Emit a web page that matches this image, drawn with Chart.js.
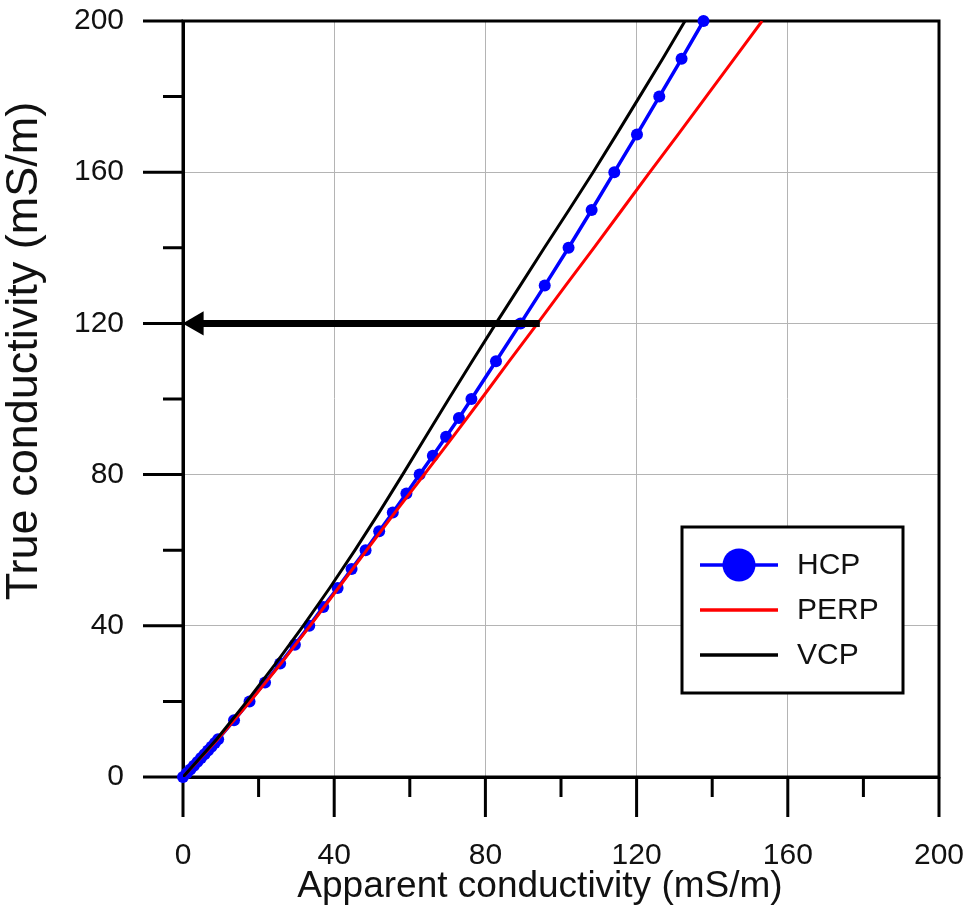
<!DOCTYPE html>
<html>
<head>
<meta charset="utf-8">
<title>True vs apparent conductivity</title>
<script src="https://cdn.jsdelivr.net/npm/chart.js@4.4.0/dist/chart.umd.min.js"></script>
<style>
    html, body { margin: 0; padding: 0; background: #fff; }
    #wrap { width: 971px; height: 914px; }
</style>
</head>
<body>
<div id="wrap"><canvas id="cond_chart" width="971" height="914"></canvas></div>
<script>
// true conductivity (mS/m) vs apparent conductivity (mS/m) per coil setup
const hcp_true = [0,1,2,3,4,5,6,7,8,9,10,15,20,25,30,35,40,45,50,55,60,65,70,75,80,85,90,95,100,110,120,130,140,150,160,170,180,190,200];
const hcp_apparent = [0,0.97,1.93,2.88,3.83,4.77,5.7,6.62,7.53,8.43,9.3,13.5,17.6,21.7,25.7,29.6,33.4,37.1,40.9,44.6,48.3,51.9,55.5,59.1,62.6,66.1,69.6,73.0,76.3,82.8,89.3,95.7,102.0,108.1,114.1,120.1,126.0,131.9,137.7];

const perp_true = [0,10,20,30,40,50,60,70,80,90,100,110,120,130,140,150,160,170,180,190,200];
const perp_apparent = [0,9.2,17.8,25.9,33.6,41.1,48.6,56.1,63.8,71.4,78.9,86.3,93.8,101.2,108.7,116.1,123.5,131.0,138.4,145.8,153.2];

const vcp_true = [0,10,20,30,40,50,60,70,80,90,100,110,120,130,140,150,160,170,180,190,200];
const vcp_apparent = [0,8.9,16.9,24.5,31.8,38.8,45.5,51.9,58.1,64.2,70.3,76.5,82.8,89.2,95.6,102.1,108.5,114.7,120.8,126.9,132.8];

// reading arrow: from the PERP curve back to the y axis
const arrow_true = [120,120];
const arrow_apparent = [94.4,3.6];

const major_ticks = [0,40,80,120,160,200];
const minor_ticks = [20,60,100,140,180];

const FONT = "'Liberation Sans', Arial, sans-serif";

function to_points(xs, ys) {
    return xs.map((x, i) => ({x: x, y: ys[i]}));
}

// box, outward tick marks, axis titles and legend
const frame_plugin = {
    id: 'frame_plugin',
    beforeDatasetsDraw(chart) {
        const ctx = chart.ctx;
        const ca = chart.chartArea;
        const xs = chart.scales.x;
        const ys = chart.scales.y;
        ctx.save();
        ctx.strokeStyle = '#000';
        ctx.lineWidth = 3;
        ctx.strokeRect(ca.left, ca.top, ca.right - ca.left, ca.bottom - ca.top);

        ctx.beginPath();
        major_ticks.concat(minor_ticks).forEach(v => {
            let len = major_ticks.includes(v) ? 40 : 20;
            let px = xs.getPixelForValue(v);
            ctx.moveTo(px, ca.bottom);
            ctx.lineTo(px, ca.bottom + len);
            let py = ys.getPixelForValue(v);
            ctx.moveTo(ca.left, py);
            ctx.lineTo(ca.left - len, py);
        });
        ctx.stroke();

        ctx.fillStyle = '#111';
        ctx.font = '37px ' + FONT;
        ctx.textAlign = 'center';
        ctx.textBaseline = 'alphabetic';
        ctx.fillText('Apparent conductivity (mS/m)', ca.left + 357, 897);

        ctx.translate(37, ca.top + 330);
        ctx.rotate(-Math.PI / 2);
        ctx.font = '45px ' + FONT;
        ctx.fillText('True conductivity (mS/m)', 0, 0);
        ctx.restore();
    },
    afterDatasetsDraw(chart) {
        const ctx = chart.ctx;
        const ca = chart.chartArea;
        let w = 221, h = 166;
        let left = ca.right - 36 - w;
        let top = ca.bottom - 84 - h;
        ctx.save();
        ctx.fillStyle = '#fff';
        ctx.fillRect(left, top, w, h);
        ctx.strokeStyle = '#000';
        ctx.lineWidth = 3;
        ctx.strokeRect(left, top, w, h);

        let row = 0;
        chart.data.datasets.forEach(ds => {
            if (!ds.label) return;
            let y = top + 38 + row * 45;
            ctx.beginPath();
            ctx.strokeStyle = ds.borderColor;
            ctx.lineWidth = 3.5;
            ctx.moveTo(left + 18, y);
            ctx.lineTo(left + 96, y);
            ctx.stroke();
            if (ds.legendMarker) {
                ctx.beginPath();
                ctx.fillStyle = ds.backgroundColor;
                ctx.arc(left + 57, y, 16.5, 0, Math.PI * 2);
                ctx.fill();
            }
            ctx.fillStyle = '#111';
            ctx.font = '30px ' + FONT;
            ctx.textAlign = 'left';
            ctx.textBaseline = 'middle';
            ctx.fillText(ds.label, left + 115, y + 1);
            row++;
        });
        ctx.restore();
    }
};

const cond_ctx = document.getElementById('cond_chart').getContext('2d');

new Chart(cond_ctx, {
    type: 'scatter',
    data: {
        datasets: [
            {
                label: 'HCP',
                data: to_points(hcp_apparent, hcp_true),
                showLine: true,
                borderColor: '#0000ff',
                backgroundColor: '#0000ff',
                borderWidth: 3.5,
                pointRadius: 6,
                pointHoverRadius: 6,
                pointBorderWidth: 0,
                legendMarker: true,
                clip: 10,
                order: 3
            },
            {
                label: 'PERP',
                data: to_points(perp_apparent, perp_true),
                showLine: true,
                borderColor: '#ff0000',
                backgroundColor: '#ff0000',
                borderWidth: 3,
                pointRadius: 0,
                order: 2
            },
            {
                label: 'VCP',
                data: to_points(vcp_apparent, vcp_true),
                showLine: true,
                borderColor: '#000000',
                backgroundColor: '#000000',
                borderWidth: 3,
                pointRadius: 0,
                order: 1
            },
            {
                label: '',
                data: to_points(arrow_apparent, arrow_true),
                showLine: true,
                borderColor: '#000000',
                backgroundColor: '#000000',
                borderWidth: 7,
                pointRadius: [0, 14],
                pointStyle: 'triangle',
                pointRotation: [0, -90],
                pointBorderWidth: 0,
                clip: 20,
                order: 0
            }
        ]
    },
    options: {
        responsive: false,
        animation: false,
        layout: {
            padding: {top: 21, right: 32, left: 0, bottom: 0}
        },
        plugins: {
            legend: false,
            tooltip: {enabled: false}
        },
        scales: {
            x: {
                type: 'linear',
                min: 0,
                max: 200,
                afterFit: (scale) => { scale.height = 137; },
                border: {display: true, color: '#000', width: 3},
                grid: {
                    drawTicks: true,
                    tickLength: 61,
                    tickColor: 'rgba(0,0,0,0)',
                    lineWidth: 1,
                    color: (c) => (c.tick && (c.tick.value === 0 || c.tick.value === 200)) ? 'rgba(0,0,0,0)' : '#b4b4b4'
                },
                ticks: {
                    stepSize: 40,
                    padding: 0,
                    color: '#111',
                    font: {family: FONT, size: 30},
                    maxRotation: 0
                }
            },
            y: {
                type: 'linear',
                min: 0,
                max: 200,
                afterFit: (scale) => { scale.width = 183; },
                border: {display: true, color: '#000', width: 3},
                grid: {
                    drawTicks: true,
                    tickLength: 59,
                    tickColor: 'rgba(0,0,0,0)',
                    lineWidth: 1,
                    color: (c) => (c.tick && (c.tick.value === 0 || c.tick.value === 200)) ? 'rgba(0,0,0,0)' : '#b4b4b4'
                },
                ticks: {
                    stepSize: 40,
                    padding: 0,
                    color: '#111',
                    font: {family: FONT, size: 30}
                }
            }
        }
    },
    plugins: [frame_plugin]
});
</script>
</body>
</html>
